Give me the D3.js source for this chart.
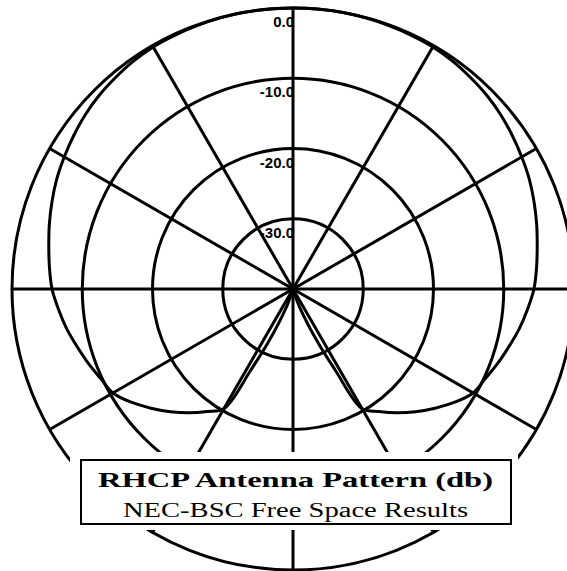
<!DOCTYPE html>
<html>
<head>
<meta charset="utf-8">
<script src="https://cdn.jsdelivr.net/npm/d3@7"></script>
<style>
  body { margin: 0; background: #fff; }
</style>
</head>
<body>
<script>
// DATA
var ringLevels = [0, -10, -20, -30];
var ringLabels = ["0.0", "-10.0", "-20.0", "-30.0"];
var spokeAngles = [0, 30, 60, 90, 120, 150, 180, 210, 240, 270, 300, 330];

// pattern, degrees clockwise from top
var patternAngles = [0, 5, 10, 15, 20, 25, 30, 35, 40, 45, 50, 55, 60, 65, 70, 75, 80, 85,
    90, 95, 100, 105, 110, 115, 120, 125, 130, 135, 140, 145, 150, 152.5, 155, 160, 165, 170, 175,
    180, 185, 190, 195, 200, 205, 207.5, 210, 215, 220, 225, 230, 235, 240, 245, 250, 255, 260, 265,
    270, 275, 280, 285, 290, 295, 300, 305, 310, 315, 320, 325, 330, 335, 340, 345, 350, 355];
var patternDb = [0.0, 0.0, 0.0, -0.05, -0.1, -0.15, -0.2, -0.4, -0.7, -1.0, -1.4, -1.9, -2.4, -2.9, -3.5, -4.1, -4.7, -5.2,
    -5.7, -6.5, -7.3, -8.2, -9.0, -9.8, -10.4, -11.9, -13.6, -15.3, -17.0, -18.7, -20.3, -27.0, -31.5, -37.3, -40, -40, -40,
    -40, -40, -40, -40, -37.3, -31.5, -27.0, -20.3, -18.7, -17.0, -15.3, -13.6, -11.9, -10.4, -9.8, -9.0, -8.2, -7.3, -6.5,
    -5.7, -5.2, -4.7, -4.1, -3.5, -2.9, -2.4, -1.9, -1.4, -1.0, -0.7, -0.4, -0.2, -0.15, -0.1, -0.05, 0.0, 0.0];

var titleLines = ["RHCP Antenna Pattern (db)", "NEC-BSC Free Space Results"];

// D3
var svg = d3.select("body")
    .append("svg")
    .attr("width", 567)
    .attr("height", 571);

const cx = 293, cy = 289;

const rScale = d3.scaleLinear()
    .domain([-40, 0])
    .range([0, 281])
    .clamp(true);

const plot = svg.append("g")
    .attr("transform", "translate(" + cx + "," + cy + ")");

// rings
plot.selectAll("circle.ring").data(ringLevels)
    .enter()
    .append("circle")
    .attr("class", "ring")
    .attr("r", d => rScale(d))
    .attr("fill", "none")
    .attr("stroke", "#000")
    .attr("stroke-width", 3);

// spokes
plot.selectAll("line.spoke").data(spokeAngles)
    .enter()
    .append("line")
    .attr("class", "spoke")
    .attr("x1", 0).attr("y1", 0)
    .attr("x2", d => rScale(0) * Math.sin(d * Math.PI / 180))
    .attr("y2", d => -rScale(0) * Math.cos(d * Math.PI / 180))
    .attr("stroke", "#000")
    .attr("stroke-width", 3);

// antenna pattern
const pattern = patternAngles.map((a, i) => ({angle: a, db: patternDb[i]}));
const radial = d3.lineRadial()
    .angle(d => d.angle * Math.PI / 180)
    .radius(d => rScale(d.db))
    .curve(d3.curveCatmullRomClosed.alpha(0.5));

plot.append("path")
    .attr("d", radial(pattern))
    .attr("fill", "none")
    .attr("stroke", "#000")
    .attr("stroke-width", 3);

plot.append("circle").attr("r", 4).attr("fill", "#000");

// ring labels
plot.selectAll("text.lbl").data(ringLevels)
    .enter()
    .append("text")
    .attr("class", "lbl")
    .attr("x", 1)
    .attr("y", d => -rScale(d) + 19)
    .attr("text-anchor", "end")
    .attr("font-family", "'Liberation Sans', Arial, sans-serif")
    .attr("font-weight", "bold")
    .attr("font-size", 15)
    .text((d, i) => ringLabels[i]);

// legend box, white backing hides the grid behind it
svg.append("rect")
    .attr("x", 70).attr("y", 452)
    .attr("width", 448).attr("height", 78)
    .attr("fill", "#fff");

svg.append("rect")
    .attr("x", 81).attr("y", 460)
    .attr("width", 430).attr("height", 64)
    .attr("fill", "#fff")
    .attr("stroke", "#000")
    .attr("stroke-width", 2);

svg.append("text")
    .attr("x", 98).attr("y", 487)
    .attr("font-family", "'Liberation Serif', 'DejaVu Serif', serif")
    .attr("font-weight", "bold")
    .attr("font-size", 22)
    .attr("textLength", 395)
    .attr("lengthAdjust", "spacingAndGlyphs")
    .text(titleLines[0]);

svg.append("text")
    .attr("x", 123).attr("y", 517)
    .attr("font-family", "'Liberation Serif', 'DejaVu Serif', serif")
    .attr("font-size", 20)
    .attr("textLength", 345)
    .attr("lengthAdjust", "spacingAndGlyphs")
    .text(titleLines[1]);
</script>
</body>
</html>
